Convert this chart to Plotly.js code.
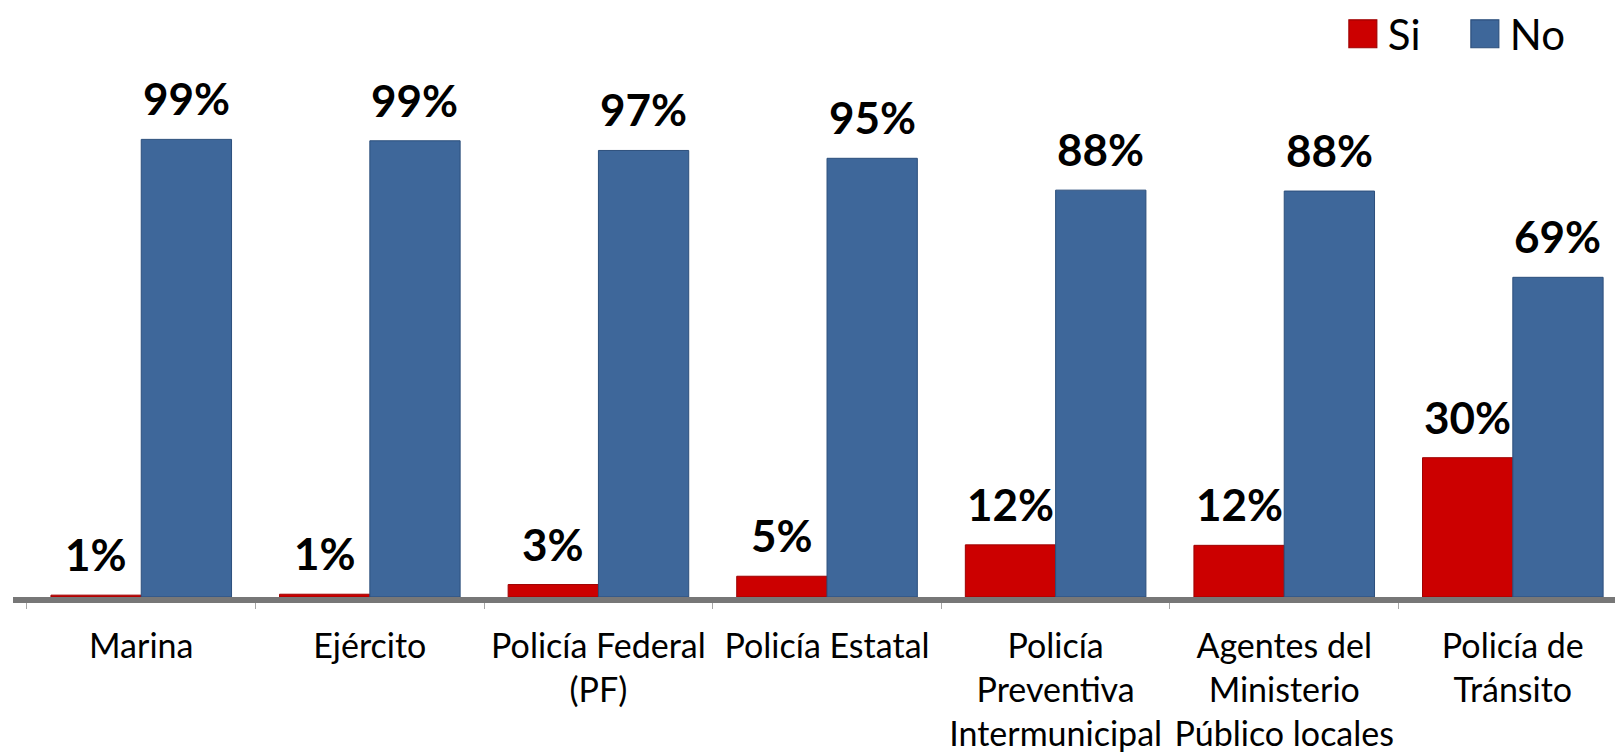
<!DOCTYPE html>
<html>
<head>
<meta charset="utf-8">
<script src="https://cdn.plot.ly/plotly-3.0.1.min.js"></script>
<style>
  html, body { margin: 0; padding: 0; background: #ffffff; }
  #chart { width: 1615px; height: 752px; }
</style>
</head>
<body>
<div id="chart"></div>
<script>
// ---- data ----
const categories = [
  'Marina',
  'Ejército',
  'Policía Federal<br>(PF)',
  'Policía Estatal',
  'Policía<br>Preventiva<br>Intermunicipal',
  'Agentes del<br>Ministerio<br>Público locales',
  'Policía de<br>Tránsito'
];
const seriesNames = ['Si', 'No'];
const siValues = [0.4, 0.6, 2.7, 4.5, 11.3, 11.2, 30.2];
const noValues = [99.2, 98.9, 96.8, 95.1, 88.2, 88.0, 69.3];
const siLabels = ['1%', '1%', '3%', '5%', '12%', '12%', '30%'];
const noLabels = ['99%', '99%', '97%', '95%', '88%', '88%', '69%'];

// ---- style ----
const RED = '#cc0000';
const RED_EDGE = '#9e0000';
const BLUE = '#3e679a';
const BLUE_EDGE = '#2c4f7c';
const FONT = 'Lato, "Open Sans", sans-serif';
const BARGAP = 0.21;

const traces = [
  {
    type: 'bar', name: seriesNames[0], x: categories, y: siValues,
    marker: { color: RED, line: { color: RED_EDGE, width: 1 } },
    hoverinfo: 'skip'
  },
  {
    type: 'bar', name: seriesNames[1], x: categories, y: noValues,
    marker: { color: BLUE, line: { color: BLUE_EDGE, width: 1 } },
    hoverinfo: 'skip'
  }
];

// value labels above each bar, placed in data coordinates
const half = (1 - BARGAP) / 4;
const annotations = [];
[[siValues, siLabels, -half], [noValues, noLabels, half]].forEach(([vals, labs, off]) => {
  vals.forEach((v, i) => {
    annotations.push({
      x: i + off, y: v, xref: 'x', yref: 'y',
      text: '<b>' + labs[i] + '</b>',
      showarrow: false, xanchor: 'center', yanchor: 'bottom', yshift: 13,
      font: { family: FONT, size: 44, color: '#000000' }
    });
  });
});

const layout = {
  width: 1615, height: 752,
  margin: { l: 13, r: 0, t: 0, b: 155, pad: 0 },
  paper_bgcolor: '#ffffff', plot_bgcolor: 'rgba(0,0,0,0)',
  barmode: 'group', bargap: BARGAP, bargroupgap: 0,
  font: { family: FONT, color: '#000000' },
  showlegend: true,
  legend: {
    orientation: 'h', xref: 'paper', yref: 'paper',
    x: 0.827, xanchor: 'left', y: 1.002, yanchor: 'top',
    font: { family: FONT, size: 42, color: '#000000' },
    bgcolor: 'rgba(0,0,0,0)', itemwidth: 40, entrywidth: 67,
    traceorder: 'normal'
  },
  xaxis: {
    type: 'category', range: [-0.561, 6.447], fixedrange: true,
    showline: true, linecolor: '#777777', linewidth: 6,
    ticks: 'outside', tickson: 'boundaries', ticklen: 6, tickwidth: 1, tickcolor: '#a6a6a6',
    tickangle: 0, ticklabelstandoff: 14,
    tickfont: { family: FONT, size: 34, color: '#000000' },
    showgrid: false, zeroline: false
  },
  yaxis: {
    range: [0, 129.2], visible: false, fixedrange: true,
    showgrid: false, zeroline: false
  },
  annotations: annotations
};

Plotly.newPlot('chart', traces, layout, { displayModeBar: false, staticPlot: true }).then(gd => {
  // enlarge legend swatches (keep Plotly's own centring translate)
  gd.querySelectorAll('.legend .legendpoints path').forEach(p => {
    const t = p.getAttribute('transform') || '';
    p.setAttribute('transform', t + ' scale(2.33)');
    p.style.strokeWidth = '0.5px';
  });
});
</script>
</body>
</html>
